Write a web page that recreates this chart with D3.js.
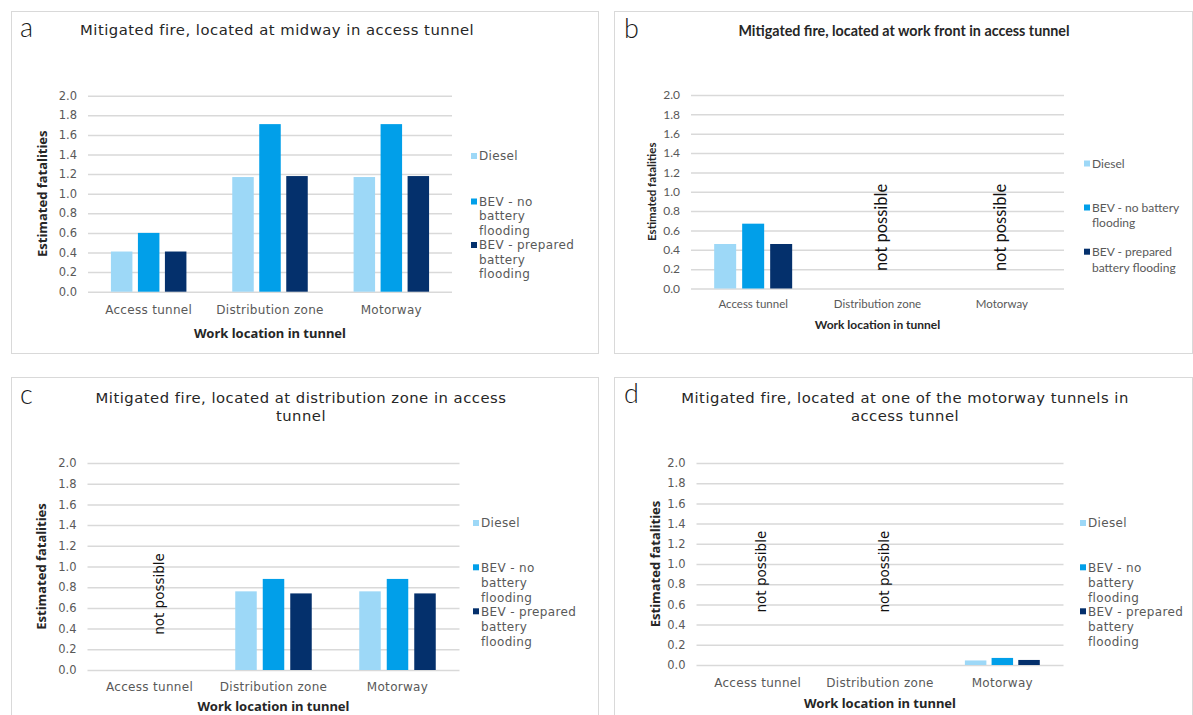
<!DOCTYPE html>
<html><head><meta charset="utf-8">
<script src="https://cdn.jsdelivr.net/npm/d3@7"></script>
<style>body{margin:0;background:#fff}svg{display:block}</style>
</head><body>
<svg id="chart" width="1193" height="715"></svg>
<script>
// ---------------- data ----------------
const categories = ["Access tunnel", "Distribution zone", "Motorway"];
const seriesNames = ["Diesel", "BEV - no battery flooding", "BEV - prepared battery flooding"];
const seriesColors = ["#9dd8f7", "#019fe9", "#04306c"];
const yTicks = [0.0, 0.2, 0.4, 0.6, 0.8, 1.0, 1.2, 1.4, 1.6, 1.8, 2.0];

const dieselA = [0.41, 1.17, 1.17];
const bevNoA = [0.60, 1.71, 1.71];
const bevPrepA = [0.41, 1.18, 1.18];

const dieselB = [0.46, null, null];
const bevNoB = [0.67, null, null];
const bevPrepB = [0.46, null, null];

const dieselC = [null, 0.76, 0.76];
const bevNoC = [null, 0.88, 0.88];
const bevPrepC = [null, 0.74, 0.74];

const dieselD = [null, null, 0.045];
const bevNoD = [null, null, 0.07];
const bevPrepD = [null, null, 0.05];

const notPossibleA = [];
const notPossibleB = ["Distribution zone", "Motorway"];
const notPossibleC = ["Access tunnel"];
const notPossibleD = ["Access tunnel", "Distribution zone"];

const titleA = ["Mitigated fire, located at midway in access tunnel"];
const titleB = ["Mitigated fire, located at work front in access tunnel"];
const titleC = ["Mitigated fire, located at distribution zone in access", "tunnel"];
const titleD = ["Mitigated fire, located at one of the motorway tunnels in", "access tunnel"];

const legendLinesWide = [["Diesel"], ["BEV - no", "battery", "flooding"], ["BEV - prepared", "battery", "flooding"]];
const legendLinesNarrow = [["Diesel"], ["BEV - no battery", "flooding"], ["BEV - prepared", "battery flooding"]];

const yAxisTitle = "Estimated fatalities";
const xAxisTitle = "Work location in tunnel";
const naText = "not possible";

// ---------------- layout ----------------
const WIDE = "'DejaVu Sans', 'Noto Sans', sans-serif";
const WIDE_BOLD = "'Noto Sans', 'DejaVu Sans', sans-serif";
const NARROW = "Lato, 'Open Sans', sans-serif";

const wideStyle = {font: WIDE, boldFont: WIDE_BOLD, titleSize: 14.8, titleWeight: 400, titleLS: 0.5,
  tickSize: 11.5, catSize: 12, catLS: 0.3, axTitleSize: 13, yTitleSize: 13, legSize: 12, legLS: 0.35, naSize: 13.5};
const narrowStyle = {font: NARROW, boldFont: NARROW, titleSize: 14.3, titleWeight: 700, titleLS: 0,
  tickSize: 12, catSize: 11.5, catLS: 0, axTitleSize: 12, yTitleSize: 11.5, legSize: 12, legLS: 0, naSize: 16.5};

const panels = [
  Object.assign({}, wideStyle, {letter: "a", box: [11, 11, 598, 353], plot: [88, 452, 95.7, 291.7], barW: 21.5, pitch: 27,
   series: [dieselA, bevNoA, bevPrepA], na: notPossibleA, naVal: 0, naDx: [],
   title: titleA, titleX: 80, titleAnchor: "start", titleY: 35,
   letterX: 20, letterY: 37, catY: 310, axTitleY: 333,
   yTitleX: 42, legend: legendLinesWide, legX: 471, legY: [156, 201.5, 245], legLH: 14.6}),
  Object.assign({}, narrowStyle, {letter: "b", box: [614, 11, 1192, 353], plot: [691, 1064, 95, 288.5], barW: 22, pitch: 28,
   series: [dieselB, bevNoB, bevPrepB], na: notPossibleB, naVal: 0.18, naDx: [4, -2],
   title: titleB, titleX: 904, titleAnchor: "middle", titleY: 36,
   letterX: 624, letterY: 38, catY: 304, axTitleY: 325,
   yTitleX: 652, legend: legendLinesNarrow, legX: 1084, legY: [163.5, 207.5, 251.7], legLH: 15.7}),
  Object.assign({}, wideStyle, {letter: "c", box: [11, 377, 598, 730], plot: [87.5, 459.5, 463, 670], barW: 21.5, pitch: 27.5,
   series: [dieselC, bevNoC, bevPrepC], na: notPossibleC, naVal: 0.34, naDx: [10],
   title: titleC, titleX: 301, titleAnchor: "middle", titleY: 403,
   letterX: 20, letterY: 404, catY: 687, axTitleY: 706,
   yTitleX: 41, legend: legendLinesWide, legX: 473, legY: [523, 567.3, 611.3], legLH: 15}),
  Object.assign({}, wideStyle, {letter: "d", box: [614, 377, 1192, 730], plot: [696.5, 1063.5, 463, 665], barW: 21.5, pitch: 26.7,
   series: [dieselD, bevNoD, bevPrepD], na: notPossibleD, naVal: 0.52, naDx: [4, 4],
   title: titleD, titleX: 905, titleAnchor: "middle", titleY: 403,
   letterX: 624, letterY: 403, catY: 683, axTitleY: 703,
   yTitleX: 655, legend: legendLinesWide, legX: 1080, legY: [523, 567.3, 611.3], legLH: 15})
];

const svg = d3.select("#chart");
svg.append("rect").attr("width", 1193).attr("height", 715).attr("fill", "#fff");

panels.forEach(p => {
  const g = svg.append("g");
  const [bx0, by0, bx1, by1] = p.box;
  g.append("rect").attr("x", bx0 + 0.5).attr("y", by0 + 0.5)
    .attr("width", bx1 - bx0).attr("height", by1 - by0)
    .attr("fill", "none").attr("stroke", "#d9d9d9").attr("stroke-width", 1);

  const [px0, px1, pyT, pyB] = p.plot;
  const x0 = d3.scaleBand().domain(categories).range([px0, px1]).paddingInner(0).paddingOuter(0);
  const B = x0.bandwidth();
  const pi = 1 - p.barW / p.pitch;
  const po = (B / p.pitch - 3 + pi) / 2;
  const x1 = d3.scaleBand().domain(seriesNames).range([0, B]).paddingInner(pi).paddingOuter(po);
  const y = d3.scaleLinear().domain([0, 2]).range([pyB, pyT]);

  // y axis with gridlines
  const yAx = g.append("g").attr("transform", `translate(${px0},0)`)
    .call(d3.axisLeft(y).tickValues(yTicks).tickFormat(d3.format(".1f"))
      .tickSize(-(px1 - px0)).tickPadding(11));
  yAx.select(".domain").remove();
  yAx.selectAll(".tick line").attr("stroke", "#d9d9d9").attr("stroke-width", 1.5);
  yAx.selectAll(".tick text").attr("fill", "#595959").style("font-family", p.font).style("font-size", p.tickSize + "px");

  // x axis labels
  const xAx = g.append("g").attr("transform", `translate(0,${p.catY})`)
    .call(d3.axisBottom(x0).tickSize(0).tickPadding(0));
  xAx.select(".domain").remove();
  xAx.selectAll(".tick text").attr("y", 0).attr("dy", "0.35em").attr("fill", "#595959")
    .style("font-family", p.font).style("font-size", p.catSize + "px").style("letter-spacing", p.catLS + "px");

  // bars
  p.series.forEach((vals, si) => {
    g.append("g").selectAll("rect")
      .data(categories.map((c, i) => ({c, v: vals[i]})).filter(d => d.v != null))
      .join("rect")
      .attr("x", d => x0(d.c) + x1(seriesNames[si]))
      .attr("width", x1.bandwidth())
      .attr("y", d => y(d.v))
      .attr("height", d => y(0) - y(d.v))
      .attr("fill", seriesColors[si]);
  });

  // not possible annotations
  p.na.forEach((c, i) => {
    const cx = x0(c) + B / 2 + (p.naDx[i] || 0);
    const yy = y(p.naVal);
    g.append("text").attr("transform", `translate(${cx},${yy}) rotate(-90)`)
      .attr("dy", "0.35em").attr("text-anchor", "start")
      .attr("fill", "#111").style("font-family", p.font).style("font-size", p.naSize + "px")
      .text(naText);
  });

  // axis titles
  g.append("text").attr("x", (px0 + px1) / 2).attr("y", p.axTitleY).attr("dy", "0.35em")
    .attr("text-anchor", "middle").attr("fill", "#262626").style("font-weight", 700)
    .style("font-family", p.boldFont).style("font-size", p.axTitleSize + "px").text(xAxisTitle);
  g.append("text").attr("transform", `translate(${p.yTitleX},${(pyT + pyB) / 2}) rotate(-90)`)
    .attr("dy", "0.35em").attr("text-anchor", "middle").attr("fill", "#262626").style("font-weight", 700)
    .style("font-family", p.boldFont).style("font-size", p.yTitleSize + "px").text(yAxisTitle);

  // title
  p.title.forEach((t, i) => {
    g.append("text").attr("x", p.titleX).attr("y", p.titleY + i * 18)
      .attr("text-anchor", p.titleAnchor).attr("fill", "#262626")
      .style("font-weight", p.titleWeight).style("font-family", p.font).style("font-size", p.titleSize + "px")
      .style("letter-spacing", p.titleLS + "px")
      .text(t);
  });

  // panel letter
  g.append("text").attr("x", p.letterX).attr("y", p.letterY).attr("fill", "#1a1a1a")
    .style("font-family", "Lato, 'Noto Sans', sans-serif").style("font-weight", 300).style("font-size", "27px")
    .text(p.letter);

  // legend
  p.legend.forEach((lines, si) => {
    const ly = p.legY[si];
    g.append("rect").attr("x", p.legX).attr("y", ly - 3).attr("width", 6).attr("height", 6).attr("fill", seriesColors[si]);
    lines.forEach((ln, li) => {
      g.append("text").attr("x", p.legX + 8).attr("y", ly + li * p.legLH).attr("dy", "0.35em")
        .attr("fill", "#595959").style("font-family", p.font).style("font-size", p.legSize + "px")
        .style("letter-spacing", p.legLS + "px").text(ln);
    });
  });
});
</script>
</body></html>
